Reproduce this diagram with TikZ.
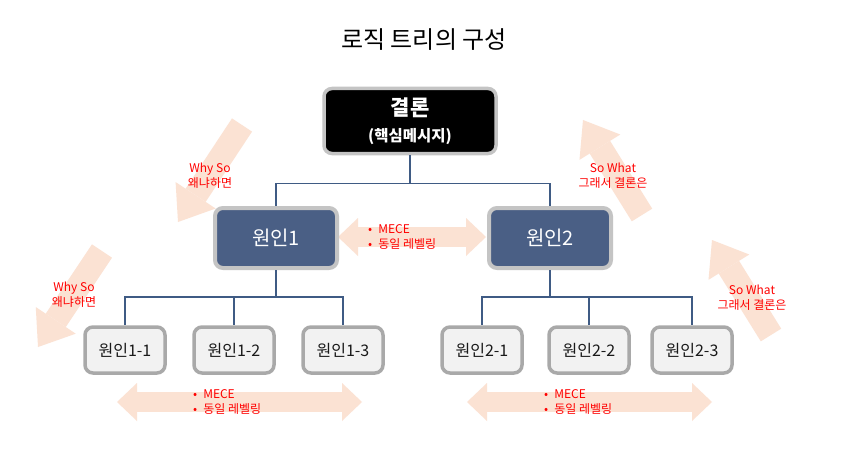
\documentclass[tikz,border=0pt]{standalone}
\usepackage{fontspec}
\setmainfont{Noto Sans CJK KR}
\usetikzlibrary{arrows.meta}
\definecolor{peach}{HTML}{FBE2D3}
\definecolor{navy}{HTML}{4A5F85}
\definecolor{linkblue}{HTML}{3F5B84}
\definecolor{rimgray}{HTML}{C4C4C4}
\definecolor{leafrim}{HTML}{A9A9A9}
\definecolor{leafgray}{HTML}{F2F2F2}
\tikzset{topbox/.style={rounded corners=8, draw=rimgray, line width=3.5pt, fill=black, text=white, align=center, minimum width=172, minimum height=65, font=\bfseries\fontsize{15.5}{26}\selectfont}}
\tikzset{midbox/.style={rounded corners=8, draw=rimgray, line width=4pt, fill=navy, text=white, minimum width=122, minimum height=60, font=\fontsize{20}{24}\selectfont}}
\tikzset{leafbox/.style={rounded corners=8, draw=leafrim, line width=3.5pt, fill=leafgray, text=black!90, minimum width=80, minimum height=46, font=\fontsize{16}{19}\selectfont}}
\tikzset{link/.style={draw=linkblue, line width=1.5pt}}
\tikzset{fatarr/.style={draw=peach, line width=24pt, -{Triangle[length=32pt, width=48pt, line width=0pt]}}}
\tikzset{fatboth/.style={draw=peach, line width=20pt, {Triangle[length=20pt, width=38pt, line width=0pt]}-{Triangle[length=20pt, width=38pt, line width=0pt]}}}
\tikzset{redtext/.style={text=red, align=center, inner sep=1pt, font=\fontsize{12}{15}\selectfont}}
\tikzset{bullets/.style={redtext, align=left, anchor=west}}
\begin{document}
\begin{tikzpicture}[x=1pt, y=-1pt]
	\path[use as bounding box, fill=white] (0,0) rectangle (847,452);

	\node[font=\fontsize{24}{28}\selectfont, text=black] (title) at (424,40) {로직 트리의 구성};

	% peach arrows behind everything
	\coordinate (why1a) at (242,125);
	\coordinate (why1b) at (178,222);
	\coordinate (why2a) at (102,251);
	\coordinate (why2b) at (38,347);
	\coordinate (what1a) at (642,215);
	\coordinate (what1b) at (583,120);
	\coordinate (what2a) at (771,335);
	\coordinate (what2b) at (712,240);
	\draw[fatarr] (why1a) -- (why1b);
	\draw[fatarr] (why2a) -- (why2b);
	\draw[fatarr] (what1a) -- (what1b);
	\draw[fatarr] (what2a) -- (what2b);

	\coordinate (midl) at (338,237);
	\coordinate (midr) at (486,237);
	\coordinate (botl1) at (117,402);
	\coordinate (botr1) at (362,402);
	\coordinate (botl2) at (467,402);
	\coordinate (botr2) at (712,402);
	\draw[fatboth] (midl) -- (midr);
	\draw[fatboth] (botl1) -- (botr1);
	\draw[fatboth] (botl2) -- (botr2);

	\node[redtext] (why1) at (210,176) {Why So\\왜냐하면};
	\node[redtext] (why2) at (74,295) {Why So\\왜냐하면};
	\node[redtext] (what1) at (613,176) {So What\\그래서 결론은};
	\node[redtext] (what2) at (752,298) {So What\\그래서 결론은};
	\node[bullets] (mece0) at (367,237) {•\enspace MECE\\•\enspace 동일 레벨링};
	\node[bullets] (mece1) at (192,402) {•\enspace MECE\\•\enspace 동일 레벨링};
	\node[bullets] (mece2) at (543,402) {•\enspace MECE\\•\enspace 동일 레벨링};

	% boxes
	\node[topbox] (concl) at (410,121) {{\fontsize{21}{25}\selectfont 결론}\\(핵심메시지)};
	\node[midbox] (c1) at (276,238) {원인1};
	\node[midbox] (c2) at (550,238) {원인2};
	\node[leafbox] (c11) at (125,350) {원인1-1};
	\node[leafbox] (c12) at (234,350) {원인1-2};
	\node[leafbox] (c13) at (343,350) {원인1-3};
	\node[leafbox] (c21) at (482,350) {원인2-1};
	\node[leafbox] (c22) at (589,350) {원인2-2};
	\node[leafbox] (c23) at (692,350) {원인2-3};

	% tree lines
	\draw[link] (concl.south) -- ++(0,28) coordinate (bar0) -| (c1.north);
	\draw[link] (bar0) -| (c2.north);
	\draw[link] (c1.south) -- ++(0,27) coordinate (bar1) -| (c11.north);
	\draw[link] (bar1) -| (c13.north);
	\draw[link] (bar1) -| (c12.north);
	\draw[link] (c2.south) -- ++(0,27) coordinate (bar2) -| (c21.north);
	\draw[link] (bar2) -| (c23.north);
	\draw[link] (bar2) -| (c22.north);
\end{tikzpicture}
\end{document}
